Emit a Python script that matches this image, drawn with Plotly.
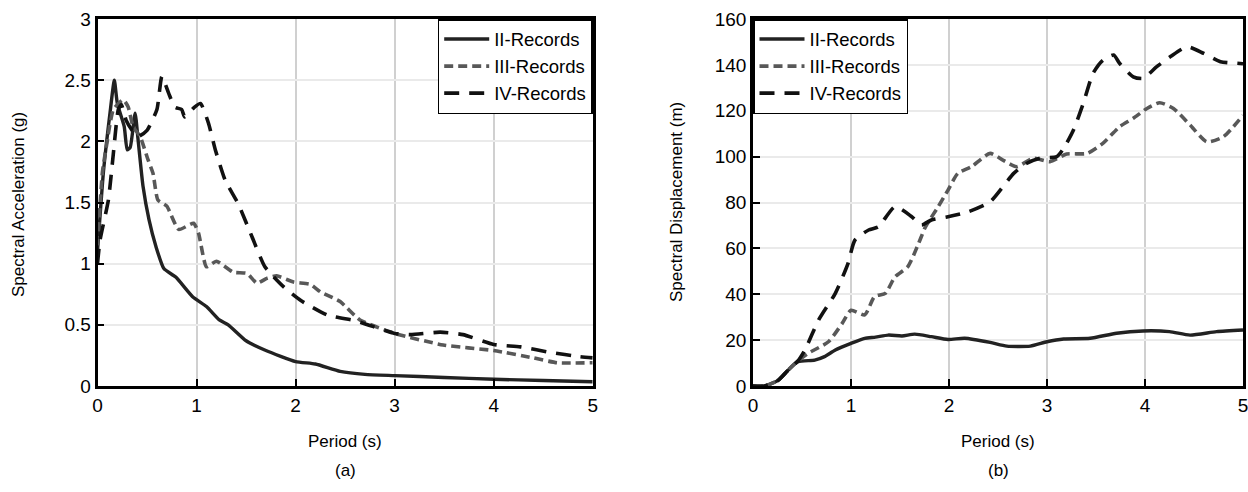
import plotly.graph_objects as go

# ---------------- data: panel (a) Spectral Acceleration (g) ----------------
a_ii_t = [0, 0.06, 0.126, 0.17, 0.2, 0.27, 0.30, 0.33, 0.38, 0.41, 0.46, 0.52, 0.59, 0.67, 0.79, 0.96, 1.1, 1.23, 1.32, 1.5, 1.7, 2.0, 2.2, 2.45, 2.7, 3.0, 3.5, 4.0, 4.5, 5.0]
a_ii_y = [1.1, 1.75, 2.23, 2.5, 2.31, 2.12, 1.93, 1.95, 2.23, 2.01, 1.63, 1.36, 1.14, 0.96, 0.89, 0.73, 0.65, 0.54, 0.5, 0.37, 0.29, 0.2, 0.18, 0.12, 0.095, 0.085, 0.07, 0.055, 0.045, 0.035]

a_iii_t = [0, 0.05, 0.09, 0.16, 0.26, 0.31, 0.36, 0.43, 0.51, 0.56, 0.61, 0.70, 0.82, 0.97, 1.02, 1.10, 1.20, 1.37, 1.51, 1.61, 1.71, 1.81, 1.98, 2.15, 2.25, 2.45, 2.65, 3.0, 3.49, 4.0, 4.4, 4.64, 5.0]
a_iii_y = [1.15, 1.75, 1.96, 2.26, 2.34, 2.28, 2.12, 2.04, 1.85, 1.74, 1.52, 1.47, 1.28, 1.33, 1.25, 0.975, 1.02, 0.93, 0.92, 0.84, 0.88, 0.9, 0.85, 0.83, 0.77, 0.69, 0.54, 0.43, 0.335, 0.29, 0.23, 0.19, 0.19]

a_iv_t = [0, 0.025, 0.11, 0.16, 0.21, 0.24, 0.29, 0.35, 0.41, 0.50, 0.60, 0.65, 0.72, 0.78, 0.85, 0.88, 0.98, 1.04, 1.12, 1.19, 1.29, 1.42, 1.56, 1.69, 1.88, 2.05, 2.32, 2.62, 3.0, 3.16, 3.46, 3.69, 4.0, 4.27, 4.57, 4.87, 5.0]
a_iv_y = [1.0, 1.19, 1.52, 1.9, 2.26, 2.3, 2.17, 2.09, 2.04, 2.09, 2.26, 2.53, 2.39, 2.28, 2.26, 2.2, 2.28, 2.31, 2.15, 1.93, 1.68, 1.49, 1.22, 0.975, 0.81, 0.7, 0.58, 0.53, 0.43, 0.42, 0.44, 0.42, 0.34, 0.32, 0.275, 0.24, 0.23]

# ---------------- data: panel (b) Spectral Displacement (m) ----------------
b_ii_t = [0, 0.12, 0.26, 0.36, 0.46, 0.63, 0.73, 0.84, 1.0, 1.14, 1.25, 1.38, 1.52, 1.65, 1.82, 1.99, 2.16, 2.42, 2.59, 2.83, 3.0, 3.17, 3.44, 3.71, 3.98, 4.25, 4.46, 4.73, 5.0]
b_ii_y = [0, 0, 2.6, 7, 10.6, 11.3, 12.8, 15.7, 18.6, 20.8, 21.3, 22.2, 21.8, 22.6, 21.5, 20.3, 20.8, 19.0, 17.4, 17.4, 19.3, 20.5, 20.8, 23.0, 24.0, 23.7, 22.2, 23.7, 24.4]

b_iii_t = [0, 0.12, 0.26, 0.36, 0.46, 0.56, 0.77, 0.91, 1.0, 1.14, 1.24, 1.35, 1.45, 1.58, 1.69, 1.76, 1.89, 1.99, 2.09, 2.23, 2.42, 2.55, 2.69, 2.86, 3.03, 3.2, 3.41, 3.57, 3.74, 3.88, 4.02, 4.15, 4.29, 4.46, 4.63, 4.80, 5.0]
b_iii_y = [0, 0, 2.6, 7, 11, 14.2, 19.3, 27.3, 33, 31, 39, 40.4, 47.6, 52, 62.2, 69.4, 78.2, 85.4, 92.7, 95.6, 101.4, 98.5, 95.6, 99.3, 97.8, 101.1, 101.4, 105.8, 113, 116.7, 121, 123.5, 121, 113.8, 106.5, 108.7, 118]

b_iv_t = [0, 0.12, 0.26, 0.36, 0.46, 0.53, 0.67, 0.84, 0.97, 1.04, 1.18, 1.28, 1.45, 1.62, 1.72, 1.82, 1.99, 2.20, 2.42, 2.66, 2.79, 2.93, 3.10, 3.17, 3.27, 3.37, 3.47, 3.57, 3.68, 3.74, 3.88, 3.98, 4.12, 4.26, 4.43, 4.60, 4.77, 4.94, 5.0]
b_iv_y = [0, 0, 2.6, 7, 11, 15.7, 28.8, 40.4, 53.5, 63.6, 68, 69.4, 78.2, 73.8, 70.2, 72.4, 73.8, 76, 80.3, 92.7, 97, 99.3, 100, 103.6, 111.6, 123.2, 136.3, 142, 144.3, 140.7, 134.8, 134.1, 139.2, 143.6, 147.9, 145, 141.4, 140.7, 140.5]

series_names = ["II-Records", "III-Records", "IV-Records"]
x_ticks = [0, 1, 2, 3, 4, 5]
a_y_ticks = [0, 0.5, 1, 1.5, 2, 2.5, 3]
a_y_labels = ["0", "0.5", "1", "1.5", "2", "2.5", "3"]
b_y_ticks = [0, 20, 40, 60, 80, 100, 120, 140, 160]

styles = [
    dict(color="#222222", width=3.4, dash="solid"),
    dict(color="#585858", width=3.6, dash="9px,5px"),
    dict(color="#111111", width=3.6, dash="15px,10px"),
]

FONT = "Liberation Sans, Arial, sans-serif"

fig = go.Figure()
panel_a = [(a_ii_t, a_ii_y), (a_iii_t, a_iii_y), (a_iv_t, a_iv_y)]
panel_b = [(b_ii_t, b_ii_y), (b_iii_t, b_iii_y), (b_iv_t, b_iv_y)]
for i, (t, y) in enumerate(panel_a):
    fig.add_trace(go.Scatter(x=t, y=y, mode="lines", name=series_names[i],
                             line=dict(shape="spline", smoothing=0.5, **styles[i]),
                             xaxis="x", yaxis="y", legend="legend"))
for i, (t, y) in enumerate(panel_b):
    fig.add_trace(go.Scatter(x=t, y=y, mode="lines", name=series_names[i],
                             line=dict(shape="spline", smoothing=0.6, **styles[i]),
                             xaxis="x2", yaxis="y2", legend="legend2"))

W, H = 1248, 492
ax_a = (97.5 / W, 592.7 / W)
ax_b = (753.0 / W, 1243.0 / W)
ydom = ((H - 386) / H, (H - 19) / H)

common_x = dict(range=[0, 5], tickvals=x_ticks, showgrid=True, gridcolor="#d0d0d0", gridwidth=1.5,
                showline=True, linecolor="black", linewidth=2.5, mirror=True, automargin=False,
                ticks="inside", ticklen=7, tickwidth=2, tickcolor="black", ticklabeloverflow="allow",
                tickfont=dict(family=FONT, size=19, color="black"), zeroline=False)
common_y = dict(showgrid=True, gridcolor="#eaeaea", gridwidth=1.5,
                showline=True, linecolor="black", linewidth=2.5, mirror=True, automargin=False,
                ticks="inside", ticklen=7, tickwidth=2, tickcolor="black", ticklabeloverflow="allow",
                tickfont=dict(family=FONT, size=19, color="black"), zeroline=False)

legend_common = dict(bgcolor="white", bordercolor="black", borderwidth=1.5,
                     font=dict(family=FONT, size=18.5, color="black"),
                     yanchor="top", y=ydom[1], itemwidth=45, tracegroupgap=0)

ann_font = dict(family=FONT, size=17, color="black")
fig.update_layout(
    width=W, height=H,
    margin=dict(l=0, r=0, t=0, b=0, autoexpand=False),
    paper_bgcolor="white", plot_bgcolor="white",
    showlegend=True,
    xaxis=dict(domain=ax_a, anchor="y", **common_x),
    yaxis=dict(domain=ydom, anchor="x", range=[0, 3], tickvals=a_y_ticks, ticktext=a_y_labels, **common_y),
    xaxis2=dict(domain=ax_b, anchor="y2", **common_x),
    yaxis2=dict(domain=ydom, anchor="x2", range=[0, 160], tickvals=b_y_ticks, **common_y),
    legend=dict(x=ax_a[1], xanchor="right", **legend_common),
    legend2=dict(x=ax_b[0], xanchor="left", **legend_common),
    annotations=[
        dict(text="Period (s)", x=(ax_a[0] + ax_a[1]) / 2, y=(H - 441) / H, xref="paper", yref="paper",
             xanchor="center", yanchor="middle", showarrow=False, font=ann_font),
        dict(text="Period (s)", x=(ax_b[0] + ax_b[1]) / 2, y=(H - 441) / H, xref="paper", yref="paper",
             xanchor="center", yanchor="middle", showarrow=False, font=ann_font),
        dict(text="(a)", x=(ax_a[0] + ax_a[1]) / 2, y=(H - 470) / H, xref="paper", yref="paper",
             xanchor="center", yanchor="middle", showarrow=False, font=ann_font),
        dict(text="(b)", x=(ax_b[0] + ax_b[1]) / 2, y=(H - 470) / H, xref="paper", yref="paper",
             xanchor="center", yanchor="middle", showarrow=False, font=ann_font),
        dict(text="Spectral Acceleration (g)", x=19 / W, y=(H - 205) / H, xref="paper", yref="paper",
             xanchor="center", yanchor="middle", textangle=-90, showarrow=False, font=ann_font),
        dict(text="Spectral Displacement (m)", x=677 / W, y=(H - 202) / H, xref="paper", yref="paper",
             xanchor="center", yanchor="middle", textangle=-90, showarrow=False, font=ann_font),
    ],
)

fig.write_html("out.html")
